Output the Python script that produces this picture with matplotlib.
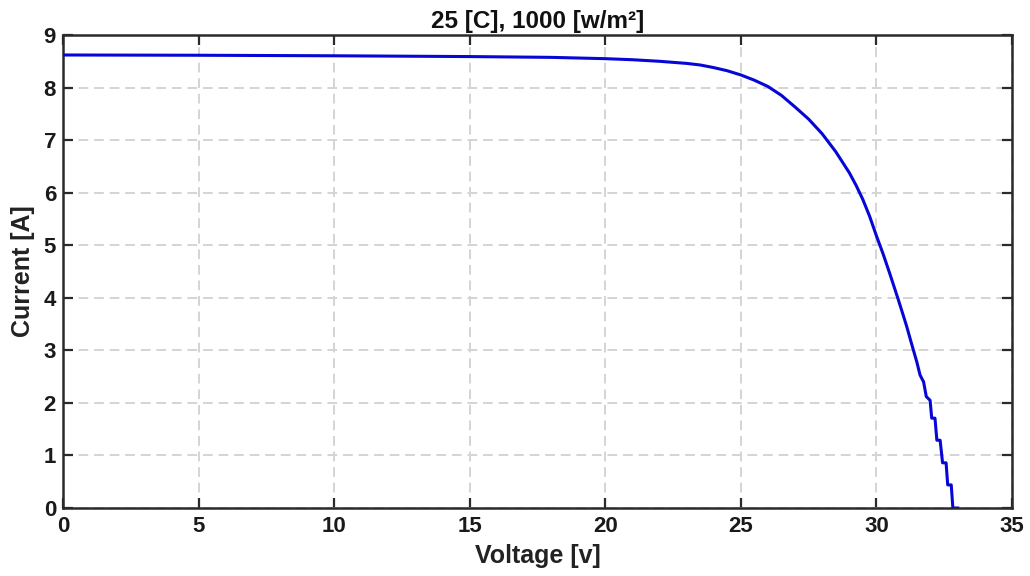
import matplotlib
matplotlib.use("Agg")
import matplotlib.pyplot as plt

plt.rcParams['font.family'] = ['Liberation Sans', 'DejaVu Sans']

title = "25 [C], 1000 [w/m²]"
xlabel = "Voltage [v]"
ylabel = "Current [A]"

voltage = [0, 5, 10, 15, 18, 20, 21, 22, 23, 23.5, 24, 24.5, 25, 25.5, 26, 26.5,
           27, 27.5, 28, 28.5, 29, 29.25, 29.5, 29.75, 30, 30.25, 30.5, 30.81, 31.0,
           31.12, 31.3, 31.49, 31.61, 31.74, 31.84, 31.98, 32.04, 32.16, 32.23,
           32.35, 32.44, 32.57, 32.63, 32.76, 32.82, 33.0]
current = [8.62, 8.615, 8.605, 8.59, 8.575, 8.55, 8.53, 8.50, 8.46, 8.43, 8.38, 8.32,
           8.24, 8.14, 8.02, 7.85, 7.63, 7.40, 7.12, 6.78, 6.38, 6.14, 5.87, 5.55,
           5.18, 4.83, 4.45, 3.96, 3.65, 3.45, 3.12, 2.78, 2.53, 2.40, 2.12, 2.05,
           1.71, 1.71, 1.29, 1.29, 0.86, 0.86, 0.44, 0.44, 0.0, 0.0]

xticks = [0, 5, 10, 15, 20, 25, 30, 35]
yticks = [0, 1, 2, 3, 4, 5, 6, 7, 8, 9]

fig = plt.figure(figsize=(10.30, 5.76), dpi=100)
ax = fig.add_axes([0.0612, 0.118, 0.9213, 0.8212])
ax.plot(voltage, current, color='#0606d6', linewidth=2.2, zorder=3,
        solid_joinstyle='round')

ax.set_xlim(0, 35)
ax.set_ylim(0, 9)
ax.set_xticks(xticks)
ax.set_yticks(yticks)
ax.grid(True, color='#d4d4d4', linestyle=(0, (5, 3)), linewidth=1.4)
ax.set_axisbelow(True)
ax.tick_params(direction='in', length=7, width=1.6, color='#2a2a2a',
               top=True, right=True, labelsize=16)
ax.tick_params(axis='x', pad=6)
ax.tick_params(axis='y', pad=5)
for lbl in ax.get_xticklabels() + ax.get_yticklabels():
    lbl.set_fontweight('bold')
    lbl.set_color('#1a1a1a')
for s in ax.spines.values():
    s.set_linewidth(1.8)
    s.set_color('#2a2a2a')

ax.set_title(title, fontsize=17.5, fontweight='bold', pad=5, color='#111111')
ax.set_xlabel(xlabel, fontsize=18, fontweight='bold', labelpad=5, color='#222222')
ax.set_ylabel(ylabel, fontsize=18, fontweight='bold', labelpad=6, color='#222222')

fig.savefig("out.png", dpi=100, facecolor='white')
